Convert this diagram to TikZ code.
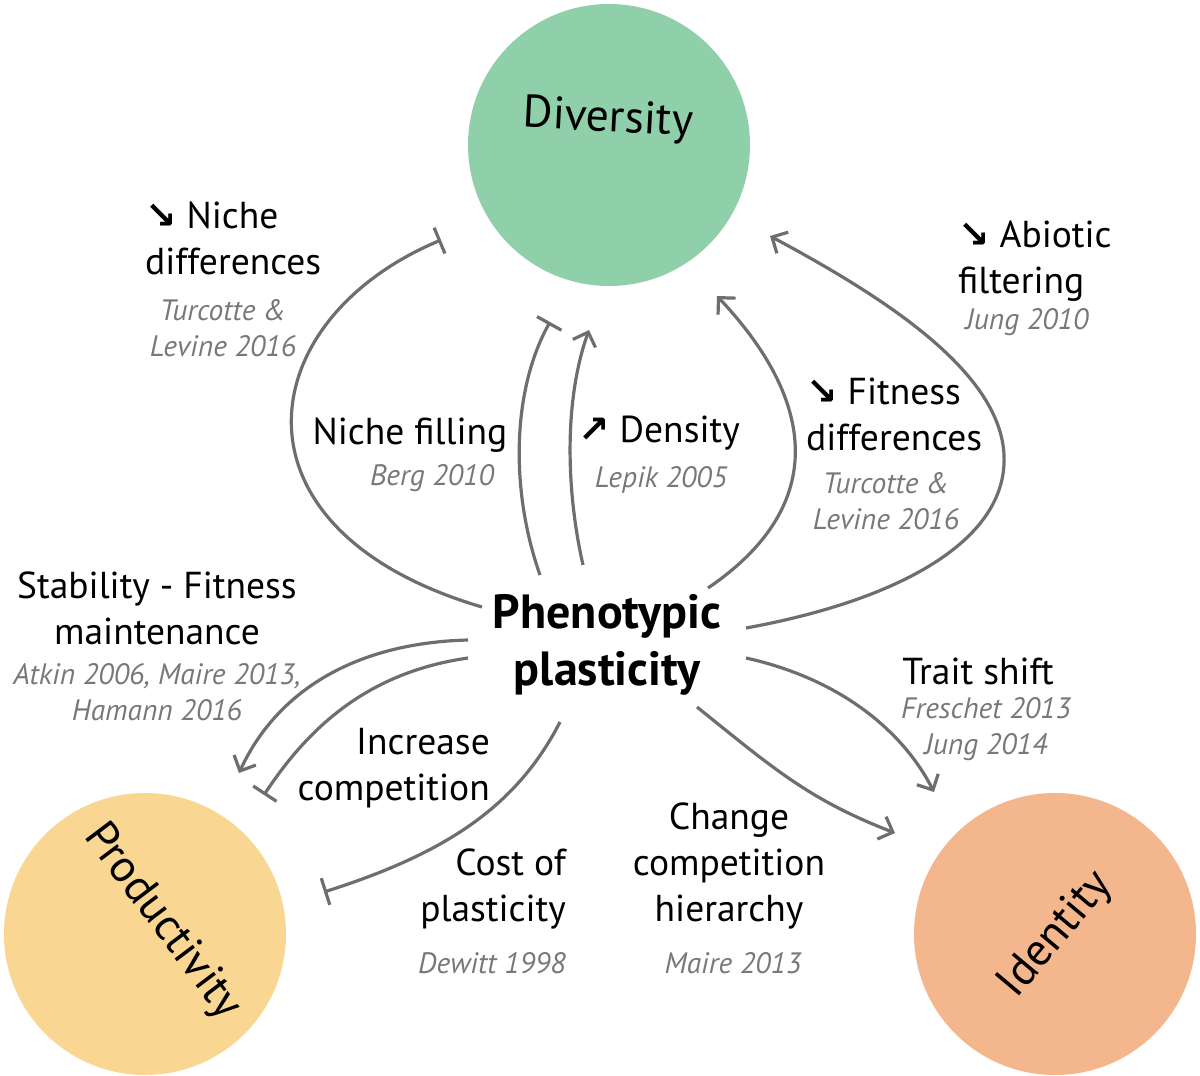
\documentclass[tikz,border=0pt]{standalone}
\usepackage{fontspec}
\setmainfont{PT Sans}
\newfontfamily\symfont{DejaVu Sans}
\usetikzlibrary{arrows.meta}
\definecolor{divgreen}{HTML}{8FCFAA}
\definecolor{prodyellow}{HTML}{F9D793}
\definecolor{idorange}{HTML}{F4B68D}
\definecolor{linegray}{HTML}{6D6E71}
\definecolor{citegray}{HTML}{77787B}
\tikzset{
  hub/.style={circle, minimum size=282pt, inner sep=0pt},
  conn/.style={draw=linegray, line width=3.2pt},
  promote/.style={conn, -{Straight Barb[length=12pt,width=24pt,line width=3.2pt]}},
  inhibit/.style={conn, -{Bar[width=28pt,line width=3.2pt]}},
  lab/.style={font=\fontsize{37.5}{46}\selectfont, inner sep=0pt, text=black},
  cite/.style={font=\fontsize{29.5}{36.5}\selectfont\itshape, inner sep=0pt, text=citegray},
  bigname/.style={font=\fontsize{45.5}{50}\selectfont, inner sep=0pt}
}
\newcommand{\dn}{{\symfont\bfseries\char"2198}}
\newcommand{\up}{{\symfont\bfseries\char"2197}}
\begin{document}
\begin{tikzpicture}[x=1pt,y=-1pt]
\useasboundingbox (0,0) rectangle (1200,1076);
% hubs
\node[hub, fill=divgreen] (div) at (609,145) {};
\node[hub, fill=prodyellow] (prod) at (145,934) {};
\node[hub, fill=idorange] (ident) at (1055,934) {};
\node[bigname, rotate=-3] (divlab) at (608,120) {Diversity};
\node[bigname, rotate=-53] (prodlab) at (162,922) {Productivity};
\node[bigname, rotate=50] (idlab) at (1056,935) {Identity};
% centre
\node[font=\fontsize{48}{57}\selectfont\bfseries, align=center, inner sep=0pt] (pp) at (607,645) {Phenotypic\\plasticity};
% connector coordinates
\coordinate (s1) at (482,607); \coordinate (e1) at (441,240);
\coordinate (s2) at (540,575); \coordinate (e2) at (550,322);
\coordinate (s3) at (583,565); \coordinate (e3) at (589,330);
\coordinate (s4) at (708,588); \coordinate (e4) at (717,296);
\coordinate (s5) at (746,628); \coordinate (e5) at (770,236);
\coordinate (s6) at (468,640); \coordinate (e6) at (239,773);
\coordinate (s7) at (468,658); \coordinate (e7) at (264,795);
\coordinate (s8) at (560,722); \coordinate (e8) at (324,892);
\coordinate (s9) at (697,707); \coordinate (e9) at (895,833);
\coordinate (s10) at (746,658); \coordinate (e10) at (934,792);
% connectors
\draw[inhibit] (s1) .. controls (220,530) and (250,320) .. (e1);
\draw[inhibit] (s2) .. controls (510,490) and (512,390) .. (e2);
\draw[promote] (s3) .. controls (566,490) and (564,400) .. (e3);
\draw[promote] (s4) .. controls (830,505) and (815,400) .. (e4);
\draw[promote] (s5) .. controls (900,600) and (1008,540) .. (1004,455) .. controls (1000,370) and (880,295) .. (e5);
\draw[promote] (s6) .. controls (350,643) and (275,695) .. (e6);
\draw[inhibit] (s7) .. controls (370,672) and (310,725) .. (e7);
\draw[inhibit] (s8) .. controls (515,810) and (440,855) .. (e8);
\draw[promote] (s9) .. controls (775,770) and (810,800) .. (e9);
\draw[promote] (s10) .. controls (845,680) and (905,735) .. (e10);
% labels
\node[lab, align=left, anchor=west] (l1) at (145,238) {\dn\ Niche\\differences};
\node[cite, align=center] (c1) at (223,328) {Turcotte \&\\Levine 2016};
\node[lab] (l2) at (410,435) {Niche filling};
\node[cite] (c2) at (432,478) {Berg 2010};
\node[lab] (l3) at (659,433) {\up\ Density};
\node[cite] (c3) at (661,480) {Lepik 2005};
\node[lab, align=left, anchor=west] (l4) at (806,414) {\dn\ Fitness\\differences};
\node[cite, align=center] (c4) at (886,501) {Turcotte \&\\Levine 2016};
\node[lab, align=left, anchor=west] (l5) at (958,261) {\dn\ Abiotic\\filtering};
\node[cite] (c5) at (1027,322) {Jung 2010};
\node[lab, align=center] (l6) at (157,608) {Stability - Fitness\\maintenance};
\node[cite, align=center] (c6) at (157,692) {Atkin 2006, Maire 2013,\\Hamann 2016};
\node[lab, align=right, anchor=east] (l7) at (490,768) {Increase\\competition};
\node[lab, align=right, anchor=east] (l8) at (566,889) {Cost of\\plasticity};
\node[cite, anchor=east] (c8) at (566,963) {Dewitt 1998};
\node[lab, align=center] (l9) at (729,866) {Change\\competition\\hierarchy};
\node[cite] (c9) at (733,963) {Maire 2013};
\node[lab] (l10) at (978,671) {Trait shift};
\node[cite, align=center] (c10) at (986,729) {Freschet 2013\\Jung 2014};
\end{tikzpicture}
\end{document}
